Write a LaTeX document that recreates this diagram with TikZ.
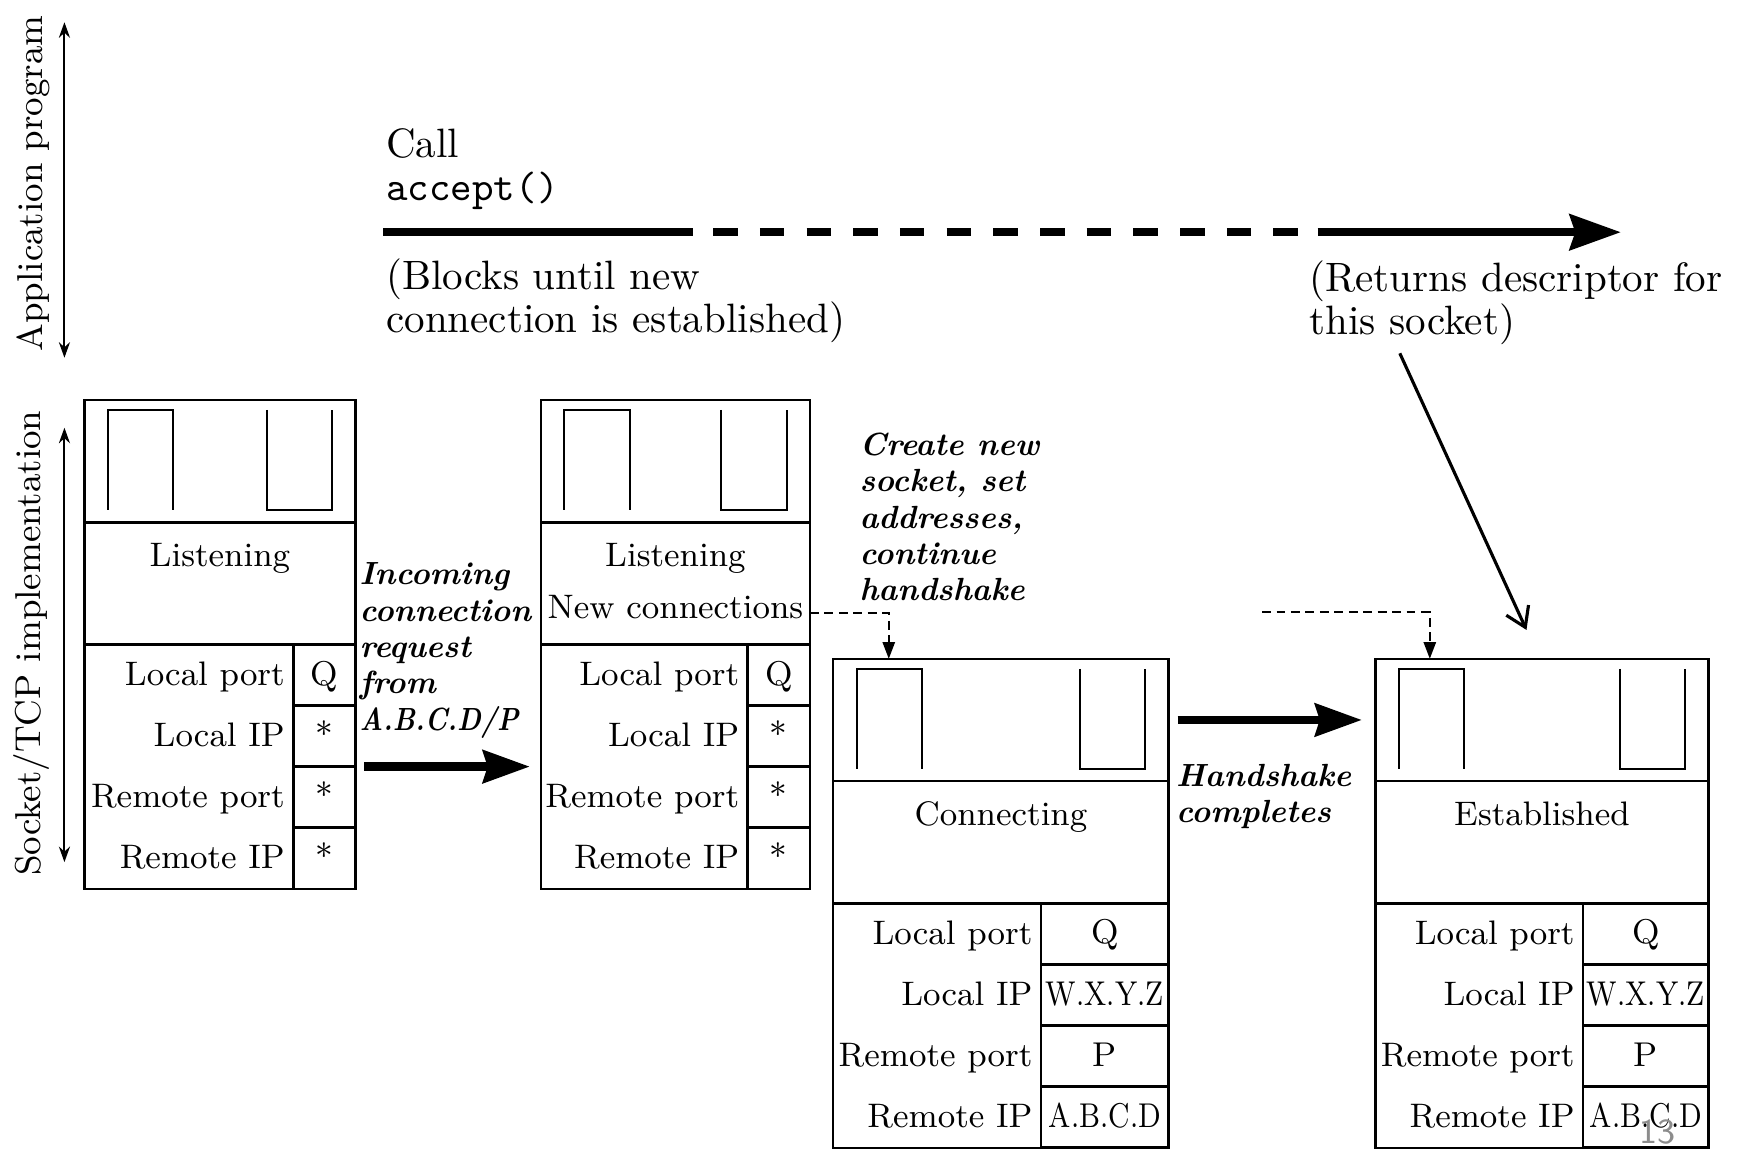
\documentclass[tikz,border=0pt]{standalone}
\usepackage{fontspec}
\usepackage{graphicx}
\usepackage{tikz}
\usetikzlibrary{arrows.meta, positioning, calc}

\newcommand{\ipaddr}[1]{\scalebox{0.84}[1]{#1}}

\begin{document}
\begin{tikzpicture}[x=0.01cm, y=-0.01cm,
  part/.style={draw, line width=0.65pt, inner sep=0pt, outer sep=0pt, anchor=north west},
  valcell/.style={draw, line width=0.65pt, inner sep=0pt, outer sep=0pt, anchor=north east, minimum height=0.55cm,
    text height=1.5ex, text depth=0.3ex, font=\fontsize{8.8}{10}\selectfont},
  slot/.style={line width=0.5pt},
  boxtext/.style={inner sep=0pt, font=\fontsize{8.7}{10}\selectfont},
  note/.style={inner sep=0pt, align=left, anchor=north west, font=\fontsize{10.5}{11.1}\selectfont},
  action/.style={inner sep=0pt, align=left, anchor=north west, font=\fontsize{8.2}{9.3}\selectfont\bfseries\itshape},
  side/.style={inner sep=0pt, rotate=90, font=\fontsize{9.2}{10}\selectfont},
  span/.style={{Stealth[length=0.14cm, width=0.1cm]}-{Stealth[length=0.14cm, width=0.1cm]}, line width=0.5pt},
  callbar/.style={line width=0.075cm},
  bigarr/.style={-{Stealth[length=0.42cm, width=0.29cm, inset=0.04cm]}, line width=0.08cm},
  link/.style={-{Triangle[length=0.15cm, width=0.11cm]}, dash pattern=on 0.08cm off 0.05cm, line width=0.45pt},
  descarr/.style={-{Straight Barb[length=0.17cm, width=0.22cm]}, line width=0.8pt}
]
  \useasboundingbox (0,0) rectangle (1568,1035);

  \node[side] (applab) at (30,165) {Application program};
  \node[side] (socklab) at (28,579) {Socket/TCP implementation};
  \coordinate (appT) at (58,20);
  \coordinate (appB) at (58,322);
  \coordinate (sockT) at (58,385);
  \coordinate (sockB) at (58,776);
  \draw[span] (appT) -- (appB);
  \draw[span] (sockT) -- (sockB);

  \node[note] (call) at (347,115) {Call\\\texttt{accept()}};
  \node[note] (blocks) at (347,232) {(Blocks until new\\connection is established)};
  \node[note] (ret) at (1178,234) {(Returns descriptor for\\this socket)};

  \coordinate (callA) at (345,209);
  \coordinate (callB) at (624,209);
  \coordinate (callC) at (642,209);
  \coordinate (callD) at (1168,209);
  \coordinate (callE) at (1186,209);
  \coordinate (callF) at (1459,209);
  \draw[callbar] (callA) -- (callB);
  \draw[callbar, dash pattern=on 0.22cm off 0.2cm] (callC) -- (callD);
  \draw[callbar, -{Stealth[length=0.46cm, width=0.32cm, inset=0.05cm]}] (callE) -- (callF);

  \foreach \n/\x/\y/\w/\v/\st/\va/\vb/\vc/\vd in {
    a/76/360/244/56/Listening/Q/*/*/*,
    b/487/360/242/56/Listening/Q/*/*/*,
    c/750/593/302/115/Connecting/Q/\ipaddr{W.X.Y.Z}/P/\ipaddr{A.B.C.D},
    d/1238/593/300/113/Established/Q/\ipaddr{W.X.Y.Z}/P/\ipaddr{A.B.C.D}}
  {
    \node[part, minimum width=\w*0.01cm, minimum height=1.1cm] (q\n) at (\x,\y) {};
    \node[part, minimum width=\w*0.01cm, minimum height=1.1cm] (s\n) at (q\n.south west) {};
    \node[part, minimum width=(\w-\v)*0.01cm, minimum height=2.2cm] (l\n) at (s\n.south west) {};
    \draw[slot] (\x+21,\y+99) |- (\x+80,\y+9) -- (\x+80,\y+99);
    \draw[slot] (\x+\w-80,\y+9) |- (\x+\w-21,\y+99) -- (\x+\w-21,\y+9);
    \node[boxtext, anchor=base] (t\n) at (\x+\w/2,\y+150) {\st};
    \foreach \r/\val/\lab in {1/\va/Local port, 2/\vb/Local IP, 3/\vc/Remote port, 4/\vd/Remote IP} {
      \node[valcell, minimum width=\v*0.01cm] (v\n\r) at (\x+\w,\y+165+55*\r) {\val};
      \node[boxtext, anchor=base east] (r\n\r) at (\x+\w-\v-7,\y+202+55*\r) {\lab};
    }
  }
  \node[boxtext, anchor=base] (newconn) at (608,557) {New connections};

  \node[action] (incoming) at (323,506) {Incoming\\connection\\request\\from\\\scalebox{0.85}[1]{A.B.C.D/P}};
  \node[action] (create) at (773,389) {Create new\\socket, set\\addresses,\\continue\\handshake};
  \node[action] (hsdone) at (1058,687) {Handshake\\completes};

  \draw[bigarr] ($(va2.south east)+(8,0)$) -- ($(lb.west |- va2.south)+(-10,0)$);
  \draw[bigarr] ($(qc.east)+(8,0)$) -- ($(qd.west)+(-12,0)$);

  \draw[link] ($(newconn.east -| sb.east)+(0,5)$) -| ($(qc.north west)+(50,0)$);
  \coordinate (handoff) at (1136,551);
  \draw[link] (handoff) -| ($(qd.north west)+(49,0)$);

  \coordinate (descfrom) at (1260,318);
  \coordinate (descto) at (1374,567);
  \draw[descarr] (descfrom) -- (descto);

  \node[text=black!45, font=\sffamily\fontsize{9}{10}\selectfont] (pageno) at (1492,1019) {13};
\end{tikzpicture}
\end{document}
